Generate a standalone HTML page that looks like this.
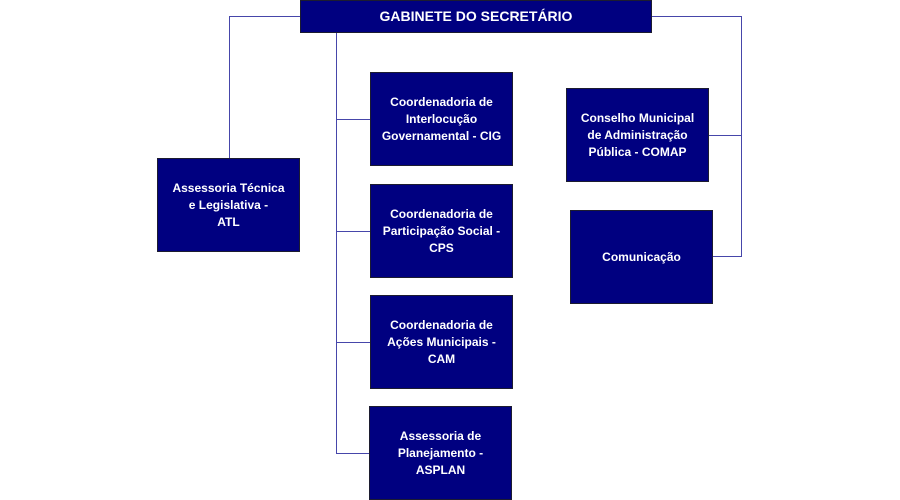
<!DOCTYPE html>
<html><head><meta charset="utf-8"><style>
html,body{margin:0;padding:0;background:#fff;}
body{width:900px;height:500px;position:relative;overflow:hidden;font-family:"Liberation Sans",sans-serif;}
.b{position:absolute;box-sizing:border-box;background:#000080;border:1px solid #1c1c30;color:#fff;font-weight:bold;font-size:12px;line-height:17px;text-align:center;display:flex;align-items:center;justify-content:center;}
.l{position:absolute;background:#4646aa;}
</style></head><body>
<!-- connectors -->
<div class="l" style="left:229px;top:16px;width:72px;height:1.3px"></div>
<div class="l" style="left:229px;top:16px;width:1.3px;height:142px"></div>
<div class="l" style="left:336px;top:32px;width:1.3px;height:422px"></div>
<div class="l" style="left:336px;top:119px;width:34px;height:1.3px"></div>
<div class="l" style="left:336px;top:231px;width:34px;height:1.3px"></div>
<div class="l" style="left:336px;top:342px;width:34px;height:1.3px"></div>
<div class="l" style="left:336px;top:453px;width:34px;height:1.3px"></div>
<div class="l" style="left:651px;top:16px;width:91px;height:1.3px"></div>
<div class="l" style="left:741px;top:16px;width:1.3px;height:241px"></div>
<div class="l" style="left:708px;top:135px;width:34px;height:1.3px"></div>
<div class="l" style="left:712px;top:256px;width:30px;height:1.3px"></div>
<!-- boxes -->
<div class="b" style="left:300px;top:0px;width:352px;height:33px;font-size:14px;">GABINETE DO SECRETÁRIO</div>
<div class="b" style="left:157px;top:158px;width:143px;height:94px;">Assessoria Técnica<br>e Legislativa -<br>ATL</div>
<div class="b" style="left:370px;top:72px;width:143px;height:94px;">Coordenadoria de<br>Interlocução<br>Governamental - CIG</div>
<div class="b" style="left:370px;top:184px;width:143px;height:94px;">Coordenadoria de<br>Participação Social -<br>CPS</div>
<div class="b" style="left:370px;top:295px;width:143px;height:94px;">Coordenadoria de<br>Ações Municipais -<br>CAM</div>
<div class="b" style="left:369px;top:406px;width:143px;height:94px;">Assessoria de<br>Planejamento -<br>ASPLAN</div>
<div class="b" style="left:566px;top:88px;width:143px;height:94px;">Conselho Municipal<br>de Administração<br>Pública - COMAP</div>
<div class="b" style="left:570px;top:210px;width:143px;height:94px;">Comunicação</div>
</body></html>
